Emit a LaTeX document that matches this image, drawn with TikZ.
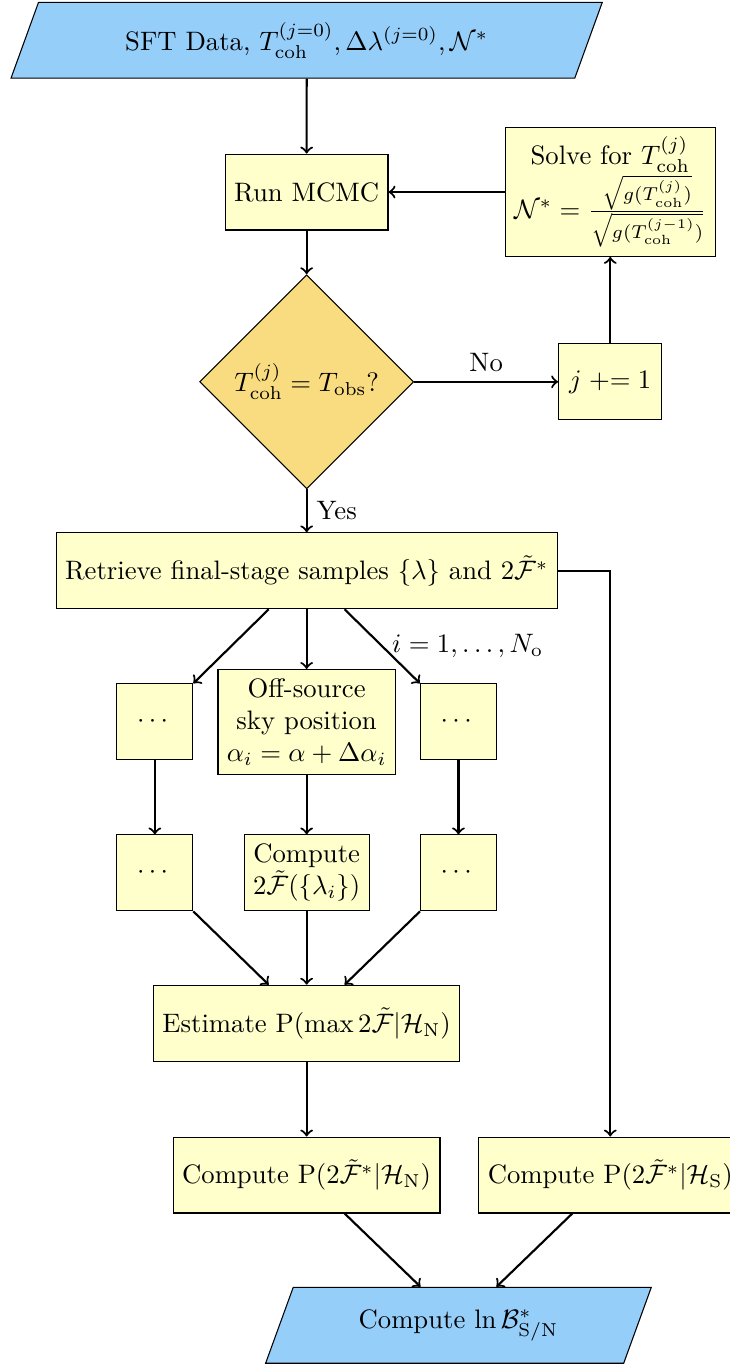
\documentclass[tikz,border=0pt]{standalone}
\usepackage{xcolor}
\usepackage{amssymb}
\usepackage{amsmath}
\usepackage{tikz}
\newcommand{\Tcoh}[1]{T_{\mathrm{coh}}^{(#1)}}
\newcommand{\Ft}{\tilde{\mathcal{F}}}
\usetikzlibrary{calc}
\usetikzlibrary{arrows}
\usetikzlibrary{shapes.geometric}
\definecolor{iocolor}{RGB}{150,206,250}
\definecolor{proccolor}{RGB}{255,255,204}
\definecolor{deccolor}{RGB}{250,220,128}
\tikzstyle{io}=[trapezium, trapezium left angle=70, trapezium right angle=110, trapezium stretches=true, draw, fill=iocolor, minimum height=1cm]
\tikzstyle{proc}=[rectangle, draw, fill=proccolor, minimum height=1cm, align=center]
\tikzstyle{dec}=[diamond, draw, fill=deccolor, aspect=1, inner sep=0pt, minimum width=2.82cm, minimum height=2.82cm]
\tikzstyle{line}=[->, thick]

\begin{document}
\begin{tikzpicture}
        \useasboundingbox (-4.04, 0.53) rectangle (5.57, -17.44);

        % search stages
        \node [io, minimum width=7.8cm] (data) at (0, 0) {SFT Data, $\Tcoh{j=0}, \Delta\lambda^{(j=0)}, \mathcal{N}^*$};
        \node [proc] (mcmc) at (0, -2) {Run MCMC};
        \node [proc] (solve) at (4, -2) {Solve for $\Tcoh{j}$\\ $\mathcal{N}^* = \frac{\sqrt{g(\Tcoh{j})}}{\sqrt{g(\Tcoh{j-1})}}$};
        \node [dec] (check) at (0, -4.5) {$\Tcoh{j} = T_{\mathrm{obs}}$?};
        \node [proc, minimum width=1.36cm] (incr) at (4, -4.5) {$j \mathrel{+}= 1$};
        \node [proc] (ret) at (0, -6.99) {Retrieve final-stage samples $\{\lambda\}$ and $2\Ft^*$};

        % off-source sky positions
        \node [proc, minimum width=1cm] (dl1) at (-2, -8.98) {$\cdots$};
        \node [proc] (off) at (0, -8.98) {Off-source\\ sky position\\ $\alpha_i = \alpha + \Delta\alpha_i$};
        \node [proc, minimum width=1cm] (dr1) at (2, -8.98) {$\cdots$};
        \node [proc, minimum width=1cm] (dl2) at (-2, -10.97) {$\cdots$};
        \node [proc] (comp) at (0, -10.97) {Compute\\ $2\Ft(\{\lambda_i\})$};
        \node [proc, minimum width=1cm] (dr2) at (2, -10.97) {$\cdots$};

        % probabilities and Bayes factor
        \node [proc] (est) at (0, -12.95) {Estimate $\mathrm{P}(\max 2\Ft|\mathcal{H}_{\mathrm{N}})$};
        \node [proc] (cn) at (0, -14.95) {Compute $\mathrm{P}(2\Ft^*|\mathcal{H}_{\mathrm{N}})$};
        \node [proc] (cs) at (4, -14.95) {Compute $\mathrm{P}(2\Ft^*|\mathcal{H}_{\mathrm{S}})$};
        \node [io, minimum width=5.09cm] (fin) at (2, -16.93) {Compute $\ln\mathcal{B}^*_{\mathrm{S/N}}$};

        \draw [line] (data) -- (mcmc);
        \draw [line] (mcmc) -- (check);
        \draw [line] (solve) -- (mcmc);
        \draw [line] (check) -- (incr) node [midway, above] {No};
        \draw [line] (incr) -- (solve);
        \draw [line] (check) -- (ret) node [midway, right] {Yes};

        \draw [line] ([xshift=-0.5cm]ret.south) -- (dl1.north east);
        \draw [line] (ret) -- (off);
        \draw [line] ([xshift=0.5cm]ret.south) -- (dr1.north west) node [midway, right] {$i = 1, \ldots, N_{\mathrm{o}}$};
        \draw [line] (ret.east) -| (cs.north);

        \draw [line] (dl1) -- (dl2);
        \draw [line] (off) -- (comp);
        \draw [line] (dr1) -- (dr2);
        \draw [line] (dl2.south east) -- ([xshift=-0.5cm]est.north);
        \draw [line] (comp) -- (est);
        \draw [line] (dr2.south west) -- ([xshift=0.5cm]est.north);

        \draw [line] (est) -- (cn);
        \draw [line] ([xshift=0.5cm]cn.south) -- ([xshift=-0.5cm]fin.north);
        \draw [line] ([xshift=-0.5cm]cs.south) -- ([xshift=0.5cm]fin.north);
    \end{tikzpicture}
\end{document}
